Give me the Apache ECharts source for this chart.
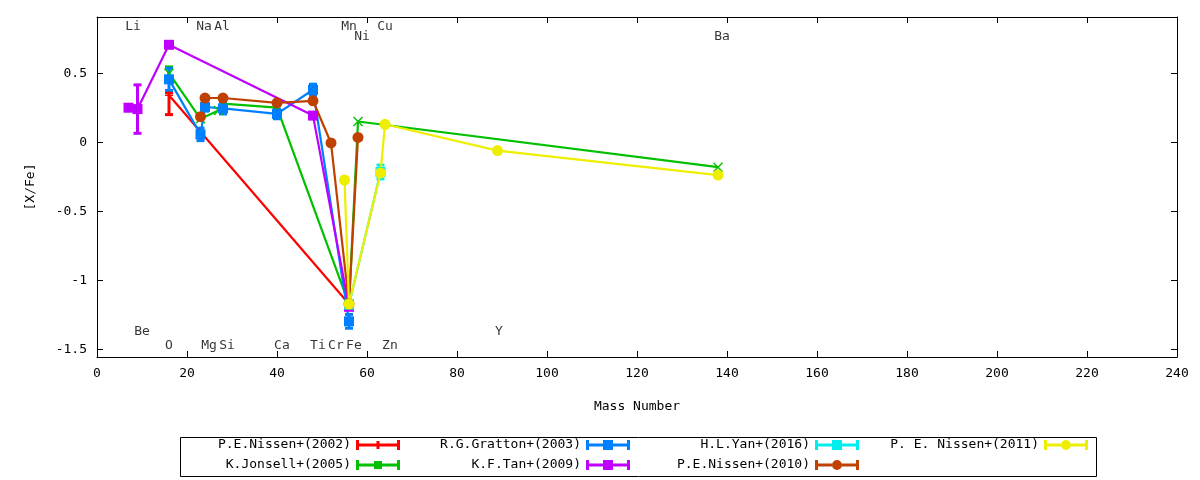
<!DOCTYPE html>
<html>
<head>
<meta charset="utf-8">
<title>[X/Fe] vs Mass Number</title>
<script src="https://cdn.jsdelivr.net/npm/echarts@6/dist/echarts.min.js"></script>
<style>html,body{margin:0;padding:0;background:#fff;}</style>
</head>
<body>
<div id="main" style="width:1200px;height:480px;"></div>
<script type="text/javascript">
// mass number / [X/Fe] / error down / error up (0 = no bar)
var nissen02Mass = [16, 56];
var nissen02Val  = [0.34, -1.17];
var nissen02Dn   = [0.14, 0];
var nissen02Up   = [0.02, 0];

var jonsellMass = [16, 23, 27, 28, 40, 56, 58, 138];
var jonsellVal  = [0.50, 0.17, 0.23, 0.28, 0.25, -1.17, 0.15, -0.18];
var jonsellDn   = [0.045, 0, 0, 0, 0, 0, 0, 0];
var jonsellUp   = [0.045, 0, 0, 0, 0, 0, 0, 0];

var grattonMass = [16, 23, 24, 28, 40, 48, 56];
var grattonVal  = [0.455, 0.057, 0.255, 0.245, 0.205, 0.38, -1.295];
var grattonDn   = [0.08, 0.045, 0.03, 0.04, 0.035, 0.04, 0.05];
var grattonUp   = [0.08, 0.045, 0.03, 0.04, 0.035, 0.04, 0.05];

var tanMass = [7, 9, 16, 48, 56];
var tanVal  = [0.25, 0.24, 0.705, 0.193, -1.19];
var tanDn   = [0, 0.175, 0, 0, 0];
var tanUp   = [0, 0.175, 0, 0, 0];

var yanMass = [56, 63];
var yanVal  = [-1.175, -0.215];
var yanDn   = [0, 0.05];
var yanUp   = [0, 0.05];

var nissen10Mass = [23, 24, 28, 40, 48, 52, 56, 58];
var nissen10Val  = [0.185, 0.32, 0.32, 0.285, 0.30, -0.005, -1.17, 0.035];
var nissen10Dn   = [0, 0, 0, 0, 0, 0, 0, 0];
var nissen10Up   = [0, 0, 0, 0, 0, 0, 0, 0];

var nissen11Mass = [55, 56, 63, 64, 89, 138];
var nissen11Val  = [-0.273, -1.17, -0.222, 0.13, -0.06, -0.237];
var nissen11Dn   = [0, 0, 0, 0, 0, 0];
var nissen11Up   = [0, 0, 0, 0, 0, 0];

// element name labels
var elemNames = ['Li', 'Na', 'Al', 'Mn', 'Ni', 'Cu', 'Ba', 'Be', 'O', 'Mg', 'Si', 'Ca', 'Ti', 'Cr', 'Fe', 'Zn', 'Y'];
var elemX = [8, 23.8, 27.8, 56, 58.9, 64, 138.9, 10, 16, 24.9, 28.9, 41.1, 49.1, 53.1, 57.1, 65.1, 89.3];
var elemY = [0.835, 0.835, 0.835, 0.835, 0.763, 0.835, 0.763, -1.367, -1.47, -1.47, -1.47, -1.47, -1.47, -1.47, -1.47, -1.47, -1.367];

var FONT = 'DejaVu Sans Mono';

// legend samples: errorbar caps, line pieces, marker in the middle
var ICON_BASE   = 'path://M0,0h3v10H0z M41,0h3v10h-3z M3,3.5h14v3h-14z M27,3.5h14v3h-14z ';
var ICON_PLUS   = ICON_BASE + 'M17,3.5h3.5v3h-3.5z M23.5,3.5h3.5v3h-3.5z M20.5,1h3v8h-3z';
var ICON_CROSS  = ICON_BASE + 'M17,3.5h1v3h-1z M26,3.5h1v3h-1z M18,1h8v8h-8z';
var ICON_SQUARE = ICON_BASE + 'M17,0h10v10h-10z';
var ICON_CIRCLE = ICON_BASE + 'M17,5a5,5 0 1,0 10,0a5,5 0 1,0 -10,0z';

var datasets = [
    {name: 'P.E.Nissen+(2002)', color: '#ff0000', mass: nissen02Mass, val: nissen02Val, dn: nissen02Dn, up: nissen02Up,
     symbol: 'path://M4,0h2v10h-2z M0,4h4v2h-4z M6,4h4v2h-4z', size: 8, icon: ICON_PLUS},
    {name: 'K.Jonsell+(2005)', color: '#00c000', mass: jonsellMass, val: jonsellVal, dn: jonsellDn, up: jonsellUp,
     symbol: 'path://M0,1L1,0L5,4L9,0L10,1L6,5L10,9L9,10L5,6L1,10L0,9L4,5Z', size: 10, icon: ICON_CROSS},
    {name: 'R.G.Gratton+(2003)', color: '#0080ff', mass: grattonMass, val: grattonVal, dn: grattonDn, up: grattonUp,
     symbol: 'rect', size: 10, icon: ICON_SQUARE},
    {name: 'K.F.Tan+(2009)', color: '#c000ff', mass: tanMass, val: tanVal, dn: tanDn, up: tanUp,
     symbol: 'rect', size: 10, icon: ICON_SQUARE},
    {name: 'H.L.Yan+(2016)', color: '#00eeee', mass: yanMass, val: yanVal, dn: yanDn, up: yanUp,
     symbol: 'rect', size: 10, icon: ICON_SQUARE},
    {name: 'P.E.Nissen+(2010)', color: '#c04000', mass: nissen10Mass, val: nissen10Val, dn: nissen10Dn, up: nissen10Up,
     symbol: 'circle', size: 11, icon: ICON_CIRCLE},
    {name: 'P. E. Nissen+(2011)', color: '#eeee00', mass: nissen11Mass, val: nissen11Val, dn: nissen11Dn, up: nissen11Up,
     symbol: 'circle', size: 11, icon: ICON_CIRCLE}
];

function errorBarItem(params, api) {
    var x = api.value(0), y = api.value(1);
    var lo = api.coord([x, y - api.value(2)]);
    var hi = api.coord([x, y + api.value(3)]);
    var cap = 4;
    var style = {stroke: api.visual('color'), lineWidth: 3};
    return {
        type: 'group',
        children: [
            {type: 'line', shape: {x1: lo[0], y1: lo[1], x2: hi[0], y2: hi[1]}, style: style},
            {type: 'line', shape: {x1: lo[0] - cap, y1: lo[1], x2: lo[0] + cap, y2: lo[1]}, style: style},
            {type: 'line', shape: {x1: hi[0] - cap, y1: hi[1], x2: hi[0] + cap, y2: hi[1]}, style: style}
        ]
    };
}

var series = [];
datasets.forEach(function (d) {
    var pts = [], bars = [];
    for (var i = 0; i < d.mass.length; i++) {
        pts.push([d.mass[i], d.val[i]]);
        if (d.dn[i] > 0 || d.up[i] > 0) bars.push([d.mass[i], d.val[i], d.dn[i], d.up[i]]);
    }
    series.push({
        name: d.name, type: 'line', data: pts,
        symbol: d.symbol, symbolSize: d.size, showAllSymbol: true,
        itemStyle: {color: d.color}, lineStyle: {color: d.color, width: 2.2},
        silent: true
    });
    series.push({
        name: d.name, type: 'custom', data: bars,
        renderItem: errorBarItem, itemStyle: {color: d.color},
        encode: {x: 0, y: 1}, silent: true
    });
});

var labelData = [];
for (var k = 0; k < elemNames.length; k++) {
    labelData.push({name: elemNames[k], value: [elemX[k], elemY[k]]});
}
series.push({
    type: 'scatter', data: labelData, symbolSize: 1, silent: true,
    itemStyle: {color: 'rgba(0,0,0,0)'},
    label: {show: true, position: 'inside', formatter: '{b}', color: '#000', fontFamily: FONT, fontSize: 13}
});

function legendCol(names, right) {
    return {
        orient: 'vertical', align: 'right', top: 438, right: right, padding: 0,
        itemWidth: 44, itemHeight: 10, itemGap: 6, selectedMode: false,
        textStyle: {fontFamily: FONT, fontSize: 13, color: '#000', lineHeight: 14},
        data: names.map(function (n) {
            var d = datasets.filter(function (s) { return s.name === n; })[0];
            return {name: n, icon: d.icon};
        })
    };
}

var frameAxis = {
    axisLine: {show: true, onZero: false, lineStyle: {color: '#000', width: 1}},
    axisTick: {show: true, inside: true, length: 6, lineStyle: {color: '#000'}},
    splitLine: {show: false}
};

var myChart = echarts.init(document.getElementById('main'));
var option = {
    animation: false,
    backgroundColor: '#fff',
    grid: {left: 97, right: 23, top: 17, bottom: 123},
    xAxis: [
        Object.assign({
            type: 'value', min: 0, max: 240, interval: 20, position: 'bottom',
            name: 'Mass Number', nameLocation: 'middle', nameGap: 43,
            nameTextStyle: {fontFamily: FONT, fontSize: 13, color: '#000'},
            axisLabel: {fontFamily: FONT, fontSize: 13, color: '#000', margin: 10}
        }, frameAxis),
        Object.assign({
            type: 'value', min: 0, max: 240, interval: 20, position: 'top',
            axisLabel: {show: false}
        }, frameAxis)
    ],
    yAxis: [
        Object.assign({
            type: 'value', min: -1.553, max: 0.906, splitNumber: 5, position: 'left',
            name: '[X/Fe]', nameLocation: 'middle', nameGap: 60, nameRotate: 90,
            nameTextStyle: {fontFamily: FONT, fontSize: 13, color: '#000'},
            axisLabel: {fontFamily: FONT, fontSize: 13, color: '#000', margin: 10,
                showMinLabel: false, showMaxLabel: false}
        }, frameAxis),
        Object.assign({
            type: 'value', min: -1.553, max: 0.906, splitNumber: 5, position: 'right',
            axisLabel: {show: false}
        }, frameAxis)
    ],
    legend: [
        legendCol(['P.E.Nissen+(2002)', 'K.Jonsell+(2005)'], 800),
        legendCol(['R.G.Gratton+(2003)', 'K.F.Tan+(2009)'], 570),
        legendCol(['H.L.Yan+(2016)', 'P.E.Nissen+(2010)'], 341),
        legendCol(['P. E. Nissen+(2011)'], 112)
    ],
    graphic: [{
        type: 'rect', left: 178, top: 435,
        shape: {width: 916, height: 39},
        style: {fill: 'none', stroke: '#000', lineWidth: 1}
    }],
    series: series
};
myChart.setOption(option);
</script>
</body>
</html>
